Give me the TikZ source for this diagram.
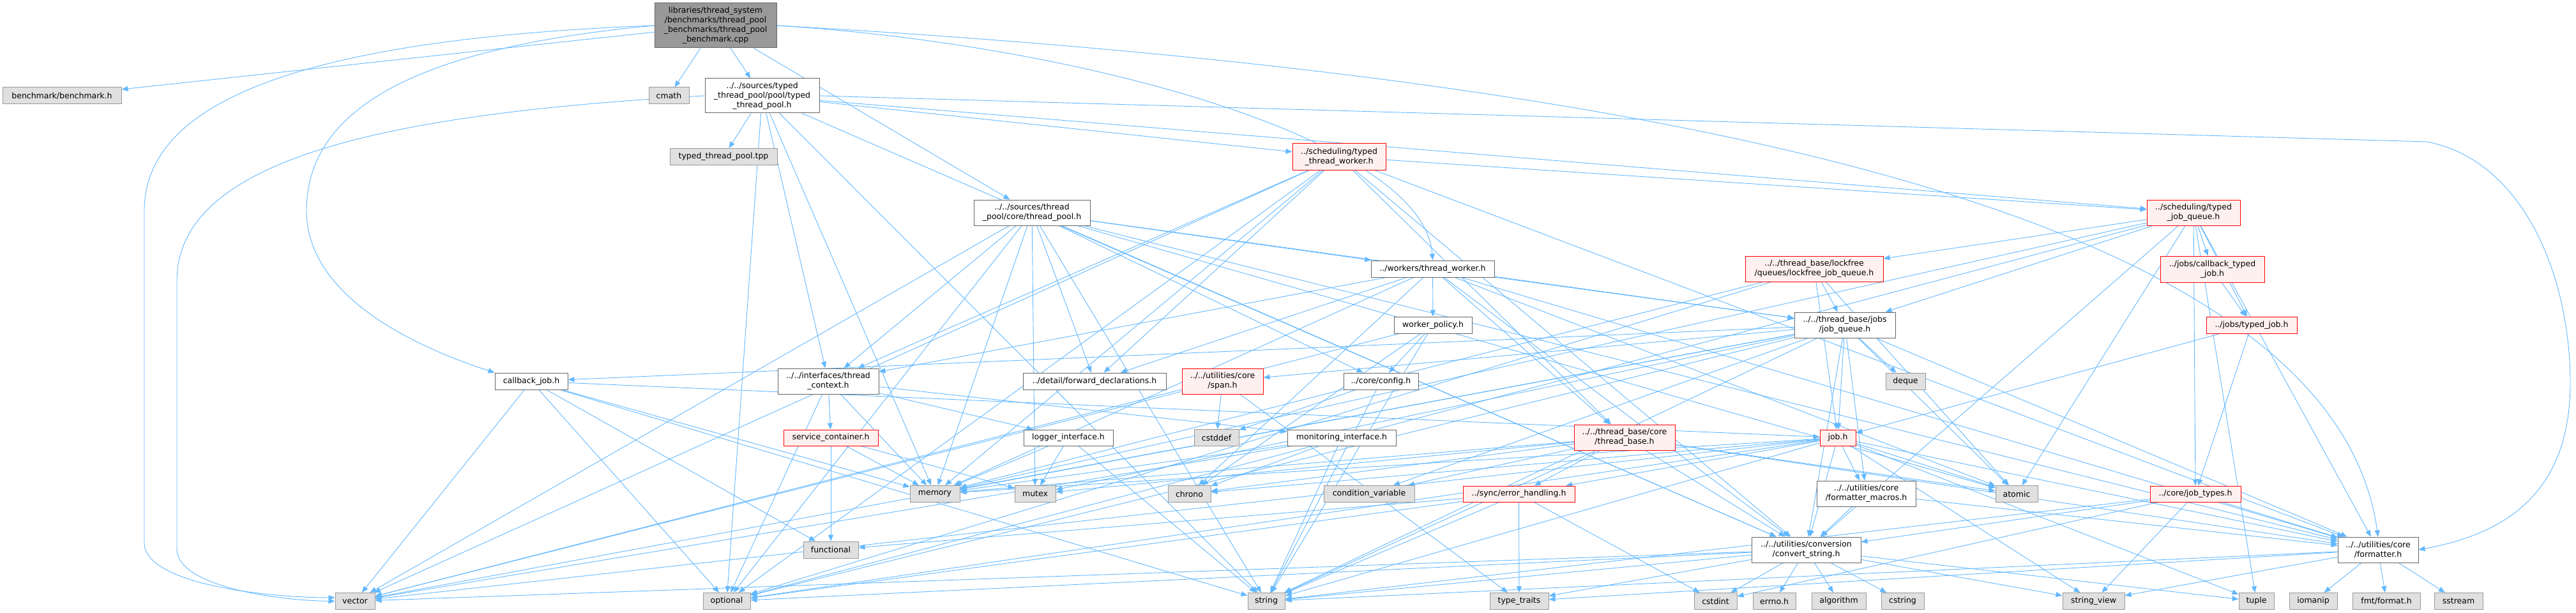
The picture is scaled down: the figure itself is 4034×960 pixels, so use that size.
\documentclass[tikz,border=0pt]{standalone}
\usepackage{fontspec}
\newfontfamily\dxfont{DejaVu Sans}
\usetikzlibrary{arrows.meta}
\pgfdeclarelayer{bg}
\pgfsetlayers{bg,main}
\definecolor{edgeblue}{HTML}{63B8FF}
\definecolor{grayfill}{HTML}{E0E0E0}
\definecolor{grayline}{HTML}{999999}
\definecolor{darkline}{HTML}{666666}
\definecolor{redfill}{HTML}{FFF0F0}
\tikzset{
  box/.style={rectangle, draw, line width=1pt, inner sep=2pt, align=center,
    font=\dxfont\fontsize{12.5}{15}\selectfont},
  sysbox/.style={box, draw=grayline, fill=grayfill, minimum height=26pt},
  hdrbox/.style={box, draw=darkline, fill=white},
  errbox/.style={box, draw=red, fill=redfill},
  rootbox/.style={box, draw=darkline, fill=grayline},
  incl/.style={draw=edgeblue, line width=0.9pt, -{Triangle[length=10pt,width=8pt]}},
}

\begin{document}
\begin{tikzpicture}[x=1pt, y=-1pt]
  \useasboundingbox (0,0) rectangle (4034,960);

  % top ranks
  \node[rootbox, minimum width=191pt, minimum height=70pt] (main) at (1120.5,40) {libraries/thread\_system\\/benchmarks/thread\_pool\\\_benchmarks/thread\_pool\\\_benchmark.cpp};
  \node[sysbox, minimum width=186pt] (bench) at (97,150) {benchmark/benchmark.h};
  \node[sysbox, minimum width=63pt] (cmath) at (1047.5,150) {cmath};
  \node[hdrbox, minimum width=179pt, minimum height=54pt] (ttp) at (1193.5,150) {../../sources/typed\\\_thread\_pool/pool/typed\\\_thread\_pool.h};
  \node[sysbox, minimum width=168pt] (tpp) at (1133,245.5) {typed\_thread\_pool.tpp};
  \node[errbox, minimum width=146pt, minimum height=41pt] (ttw) at (2097,245.5) {../scheduling/typed\\\_thread\_worker.h};
  \node[hdrbox, minimum width=182pt, minimum height=40pt] (tp) at (1616,333) {../../sources/thread\\\_pool/core/thread\_pool.h};
  \node[errbox, minimum width=146pt, minimum height=40pt] (tjq) at (3435,333) {../scheduling/typed\\\_job\_queue.h};
  \node[hdrbox, minimum width=193pt, minimum height=26pt] (tw) at (2243.5,421) {../workers/thread\_worker.h};
  \node[errbox, minimum width=216pt, minimum height=40pt] (lockfree) at (2841,421) {../../thread\_base/lockfree\\/queues/lockfree\_job\_queue.h};
  \node[errbox, minimum width=163pt, minimum height=41pt] (cbtj) at (3464.5,421.5) {../jobs/callback\_typed\\\_job.h};
  \node[hdrbox, minimum width=122pt, minimum height=26pt] (wp) at (2244,509) {worker\_policy.h};
  \node[hdrbox, minimum width=158pt, minimum height=40pt] (jq) at (2889,509) {../../thread\_base/jobs\\/job\_queue.h};
  \node[errbox, minimum width=142pt, minimum height=26pt] (typedjob) at (3526,509) {../jobs/typed\_job.h};

  % middle ranks
  \node[hdrbox, minimum width=114pt, minimum height=26pt] (cbjob) at (832,597) {callback\_job.h};
  \node[hdrbox, minimum width=158pt, minimum height=40pt] (ctx) at (1297,597) {../../interfaces/thread\\\_context.h};
  \node[hdrbox, minimum width=224pt, minimum height=26pt] (fwd) at (1714,597) {../detail/forward\_declarations.h};
  \node[errbox, minimum width=127pt, minimum height=40pt] (span) at (1914.5,597) {../../utilities/core\\/span.h};
  \node[hdrbox, minimum width=117pt, minimum height=26pt] (cfg) at (2162.5,597) {../core/config.h};
  \node[sysbox, minimum width=62pt] (deque) at (2984,597) {deque};
  \node[errbox, minimum width=148pt, minimum height=25pt] (sc) at (1301,685.5) {service\_container.h};
  \node[hdrbox, minimum width=140pt, minimum height=25pt] (logger) at (1673,685.5) {logger\_interface.h};
  \node[sysbox, minimum width=70pt] (cstddef) at (1905,685.5) {cstddef};
  \node[hdrbox, minimum width=170pt, minimum height=25pt] (monitor) at (2101,685.5) {monitoring\_interface.h};
  \node[errbox, minimum width=158pt, minimum height=40pt] (tb) at (2544,685) {../../thread\_base/core\\/thread\_base.h};
  \node[errbox, minimum width=56pt, minimum height=25pt] (job) at (2878,685.5) {job.h};
  \node[sysbox, minimum width=78pt] (memory) at (1464,773.5) {memory};
  \node[sysbox, minimum width=64pt] (mutex) at (1621,773.5) {mutex};
  \node[sysbox, minimum width=67pt] (chrono) at (1862.5,773.5) {chrono};
  \node[sysbox, minimum width=142pt] (cv) at (2144,773.5) {condition\_variable};
  \node[errbox, minimum width=175pt, minimum height=25pt] (eh) at (2378.5,773.5) {../sync/error\_handling.h};
  \node[hdrbox, minimum width=155pt, minimum height=40pt] (fmtmacros) at (2922.5,773) {../../utilities/core\\/formatter\_macros.h};
  \node[sysbox, minimum width=66pt] (atomic) at (3158,773.5) {atomic};
  \node[errbox, minimum width=142pt, minimum height=25pt] (jobtypes) at (3438,773.5) {../core/job\_types.h};
  \node[sysbox, minimum width=86pt] (functional) at (1301,861) {functional};
  \node[hdrbox, minimum width=171pt, minimum height=40pt] (convstr) at (2828.5,861) {../../utilities/conversion\\/convert\_string.h};
  \node[hdrbox, minimum width=126pt, minimum height=40pt] (formatter) at (3724,861) {../../utilities/core\\/formatter.h};

  % bottom rank
  \node[sysbox, minimum width=62pt] (vector) at (556,941.5) {vector};
  \node[sysbox, minimum width=74pt] (optional) at (1138,941.5) {optional};
  \node[sysbox, minimum width=58pt] (string) at (1983,941.5) {string};
  \node[sysbox, minimum width=92pt] (typetraits) at (2379,941.5) {type\_traits};
  \node[sysbox, minimum width=67pt] (cstdint) at (2686.5,941.5) {cstdint};
  \node[sysbox, minimum width=67pt] (errno) at (2778.5,941.5) {errno.h};
  \node[sysbox, minimum width=85pt] (algorithm) at (2879.5,941.5) {algorithm};
  \node[sysbox, minimum width=67pt] (cstring) at (2979.5,941.5) {cstring};
  \node[sysbox, minimum width=97pt] (strview) at (3278.5,941.5) {string\_view};
  \node[sysbox, minimum width=55pt] (tuple) at (3533.5,941.5) {tuple};
  \node[sysbox, minimum width=75pt] (iomanip) at (3622.5,941.5) {iomanip};
  \node[sysbox, minimum width=106pt] (fmt) at (3737,941.5) {fmt/format.h};
  \node[sysbox, minimum width=76pt] (sstream) at (3850,941.5) {sstream};

  \begin{pgfonlayer}{bg}
  % benchmark source
  \draw[incl] (main) -- (bench);
  \draw[incl] (main) -- (cmath);
  \draw[incl] (main) -- (ttp);
  \draw[incl] (main) -- (tp);
  \draw[incl] (main.west) .. controls (700,70) and (480,150) .. (480,330) .. controls (480,460) and (640,540) .. (cbjob.north west);
  \draw[incl] (main.east) .. controls (1700,70) and (2230,220) .. (tw.north);
  \draw[incl] (main.west) .. controls (500,60) and (226,150) .. (226,330) -- (226,850) .. controls (226,915) and (420,936) .. (vector.170);
  \draw[incl] (main.east) .. controls (2800,130) and (3660,380) .. (formatter.north);
  % typed pool
  \draw[incl] (ttp) -- (tpp);
  \draw[incl] (ttp) -- (ttw);
  \draw[incl] (ttp) -- (tjq);
  \draw[incl] (ttp) -- (ctx);
  \draw[incl] (ttp.east) -- (3800,222) .. controls (3950,250) and (4025,430) .. (4025,600) .. controls (4025,790) and (3900,840) .. (formatter.east);
  \draw[incl] (ttp) -- (convstr);
  \draw[incl] (ttp.west) .. controls (600,178) and (277,250) .. (277,440) -- (277,860) .. controls (277,915) and (420,940) .. (vector.west);
  \draw[incl] (ttp) -- (optional);
  \draw[incl] (ttp) -- (memory);
  \draw[incl] (ttp) -- (string);
  % thread pool
  \draw[incl] (tp) -- (ctx);
  \draw[incl] (tp) -- (tw);
  \draw[incl] (tp) -- (fwd);
  \draw[incl] (tp) -- (cfg);
  \draw[incl] (tp) -- (jq);
  \draw[incl] (tp) -- (convstr);
  \draw[incl] (tp) -- (formatter);
  \draw[incl] (tp) -- (memory);
  \draw[incl] (tp) -- (vector);
  \draw[incl] (tp) -- (optional);
  \draw[incl] (tp) -- (string);
  \draw[incl] (tp) -- (mutex);
  \draw[incl] (tp) -- (atomic);
  % typed worker
  \draw[incl] (ttw) -- (ctx);
  \draw[incl] (ttw) -- (vector);
  \draw[incl] (ttw) -- (memory);
  \draw[incl] (ttw) -- (tjq);
  \draw[incl] (ttw) -- (formatter);
  \draw[incl] (ttw) -- (convstr);
  \draw[incl] (ttw) -- (tb);
  \draw[incl] (ttw) -- (optional);
  \draw[incl] (ttw) -- (fwd);
  % worker
  \draw[incl] (tw) -- (wp);
  \draw[incl] (tw) -- (tb);
  \draw[incl] (tw) -- (jq);
  \draw[incl] (tw) -- (ctx);
  \draw[incl] (tw) -- (fwd);
  \draw[incl] (tw) -- (memory);
  \draw[incl] (tw) -- (atomic);
  \draw[incl] (tw) -- (chrono);
  \draw[incl] (tw) -- (formatter);
  \draw[incl] (tw) -- (convstr);
  \draw[incl] (wp) -- (cfg);
  \draw[incl] (wp) -- (string);
  \draw[incl] (wp) -- (chrono);
  \draw[incl] (wp) -- (vector);
  \draw[incl] (cfg) -- (cstddef);
  \draw[incl] (cfg) -- (string);
  % interfaces
  \draw[incl] (ctx) -- (sc);
  \draw[incl] (ctx) -- (logger);
  \draw[incl] (ctx) -- (monitor);
  \draw[incl] (ctx) -- (memory);
  \draw[incl] (ctx) -- (optional);
  \draw[incl] (sc) -- (functional);
  \draw[incl] (sc) -- (memory);
  \draw[incl] (sc) -- (mutex);
  \draw[incl] (logger) -- (memory);
  \draw[incl] (logger) -- (mutex);
  \draw[incl] (logger) -- (string);
  \draw[incl] (monitor) -- (memory);
  \draw[incl] (monitor) -- (chrono);
  \draw[incl] (monitor) -- (string);
  \draw[incl] (monitor) -- (vector);
  % callback job
  \draw[incl] (cbjob) -- (job);
  \draw[incl] (cbjob) -- (functional);
  \draw[incl] (cbjob) -- (optional);
  \draw[incl] (cbjob) -- (string);
  \draw[incl] (cbjob) -- (vector);
  \draw[incl] (cbjob) -- (memory);
  % thread base
  \draw[incl] (tb) -- (eh);
  \draw[incl] (tb) -- (convstr);
  \draw[incl] (tb) -- (formatter);
  \draw[incl] (tb) -- (memory);
  \draw[incl] (tb) -- (mutex);
  \draw[incl] (tb) -- (chrono);
  \draw[incl] (tb) -- (cv);
  \draw[incl] (tb) -- (atomic);
  \draw[incl] (tb) -- (string);
  \draw[incl] (eh) -- (typetraits);
  \draw[incl] (eh) -- (optional);
  \draw[incl] (eh) -- (string);
  \draw[incl] (eh) -- (functional);
  \draw[incl] (eh) -- (cstdint);
  \draw[incl] (span) -- (cstddef);
  \draw[incl] (span) -- (vector);
  \draw[incl] (span) -- (typetraits);
  % job queue
  \draw[incl] (jq) -- (job);
  \draw[incl] (jq) -- (deque);
  \draw[incl] (jq) -- (atomic);
  \draw[incl] (jq) -- (mutex);
  \draw[incl] (jq) -- (cv);
  \draw[incl] (jq) -- (memory);
  \draw[incl] (jq) -- (optional);
  \draw[incl] (jq) -- (string);
  \draw[incl] (jq) -- (formatter);
  \draw[incl] (jq) -- (convstr);
  \draw[incl] (jq) -- (fmtmacros);
  \draw[incl] (jq) -- (cbjob);
  \draw[incl] (jq) -- (vector);
  \draw[incl] (jq) -- (span);
  % job
  \draw[incl] (job) -- (fmtmacros);
  \draw[incl] (job) -- (convstr);
  \draw[incl] (job) -- (formatter);
  \draw[incl] (job) -- (atomic);
  \draw[incl] (job) -- (memory);
  \draw[incl] (job) -- (string);
  \draw[incl] (job) -- (strview);
  \draw[incl] (job) -- (optional);
  \draw[incl] (job) -- (chrono);
  \draw[incl] (job) -- (eh);
  \draw[incl] (job) -- (vector);
  \draw[incl] (job) -- (tuple);
  \draw[incl] (fmtmacros) -- (convstr);
  \draw[incl] (fmtmacros) -- (formatter);
  % utilities
  \draw[incl] (convstr) -- (algorithm);
  \draw[incl] (convstr) -- (cstring);
  \draw[incl] (convstr) -- (errno);
  \draw[incl] (convstr) -- (string);
  \draw[incl] (convstr) -- (strview);
  \draw[incl] (convstr) -- (vector);
  \draw[incl] (convstr) -- (optional);
  \draw[incl] (convstr) -- (tuple);
  \draw[incl] (convstr) -- (cstdint);
  \draw[incl] (convstr) -- (typetraits);
  \draw[incl] (formatter) -- (iomanip);
  \draw[incl] (formatter) -- (fmt);
  \draw[incl] (formatter) -- (sstream);
  \draw[incl] (formatter) -- (string);
  \draw[incl] (formatter) -- (strview);
  \draw[incl] (formatter) -- (typetraits);
  % typed queue
  \draw[incl] (tjq) -- (cbtj);
  \draw[incl] (tjq) -- (lockfree);
  \draw[incl] (tjq) -- (jq);
  \draw[incl] (tjq) -- (typedjob);
  \draw[incl] (tjq) -- (jobtypes);
  \draw[incl] (tjq) -- (formatter);
  \draw[incl] (tjq) -- (convstr);
  \draw[incl] (tjq) -- (atomic);
  \draw[incl] (tjq) -- (tuple);
  \draw[incl] (tjq) -- (memory);
  \draw[incl] (tjq) -- (optional);
  \draw[incl] (cbtj) -- (typedjob);
  \draw[incl] (typedjob) -- (job);
  \draw[incl] (typedjob) -- (jobtypes);
  \draw[incl] (jobtypes) -- (convstr);
  \draw[incl] (jobtypes) -- (formatter);
  \draw[incl] (jobtypes) -- (strview);
  \draw[incl] (jobtypes) -- (cstdint);
  \draw[incl] (jobtypes) -- (string);
  \draw[incl] (lockfree) -- (jq);
  \draw[incl] (lockfree) -- (job);
  \draw[incl] (lockfree) -- (atomic);
  \draw[incl] (lockfree) -- (memory);
  \draw[incl] (lockfree) -- (optional);
  \end{pgfonlayer}
\end{tikzpicture}
\end{document}
